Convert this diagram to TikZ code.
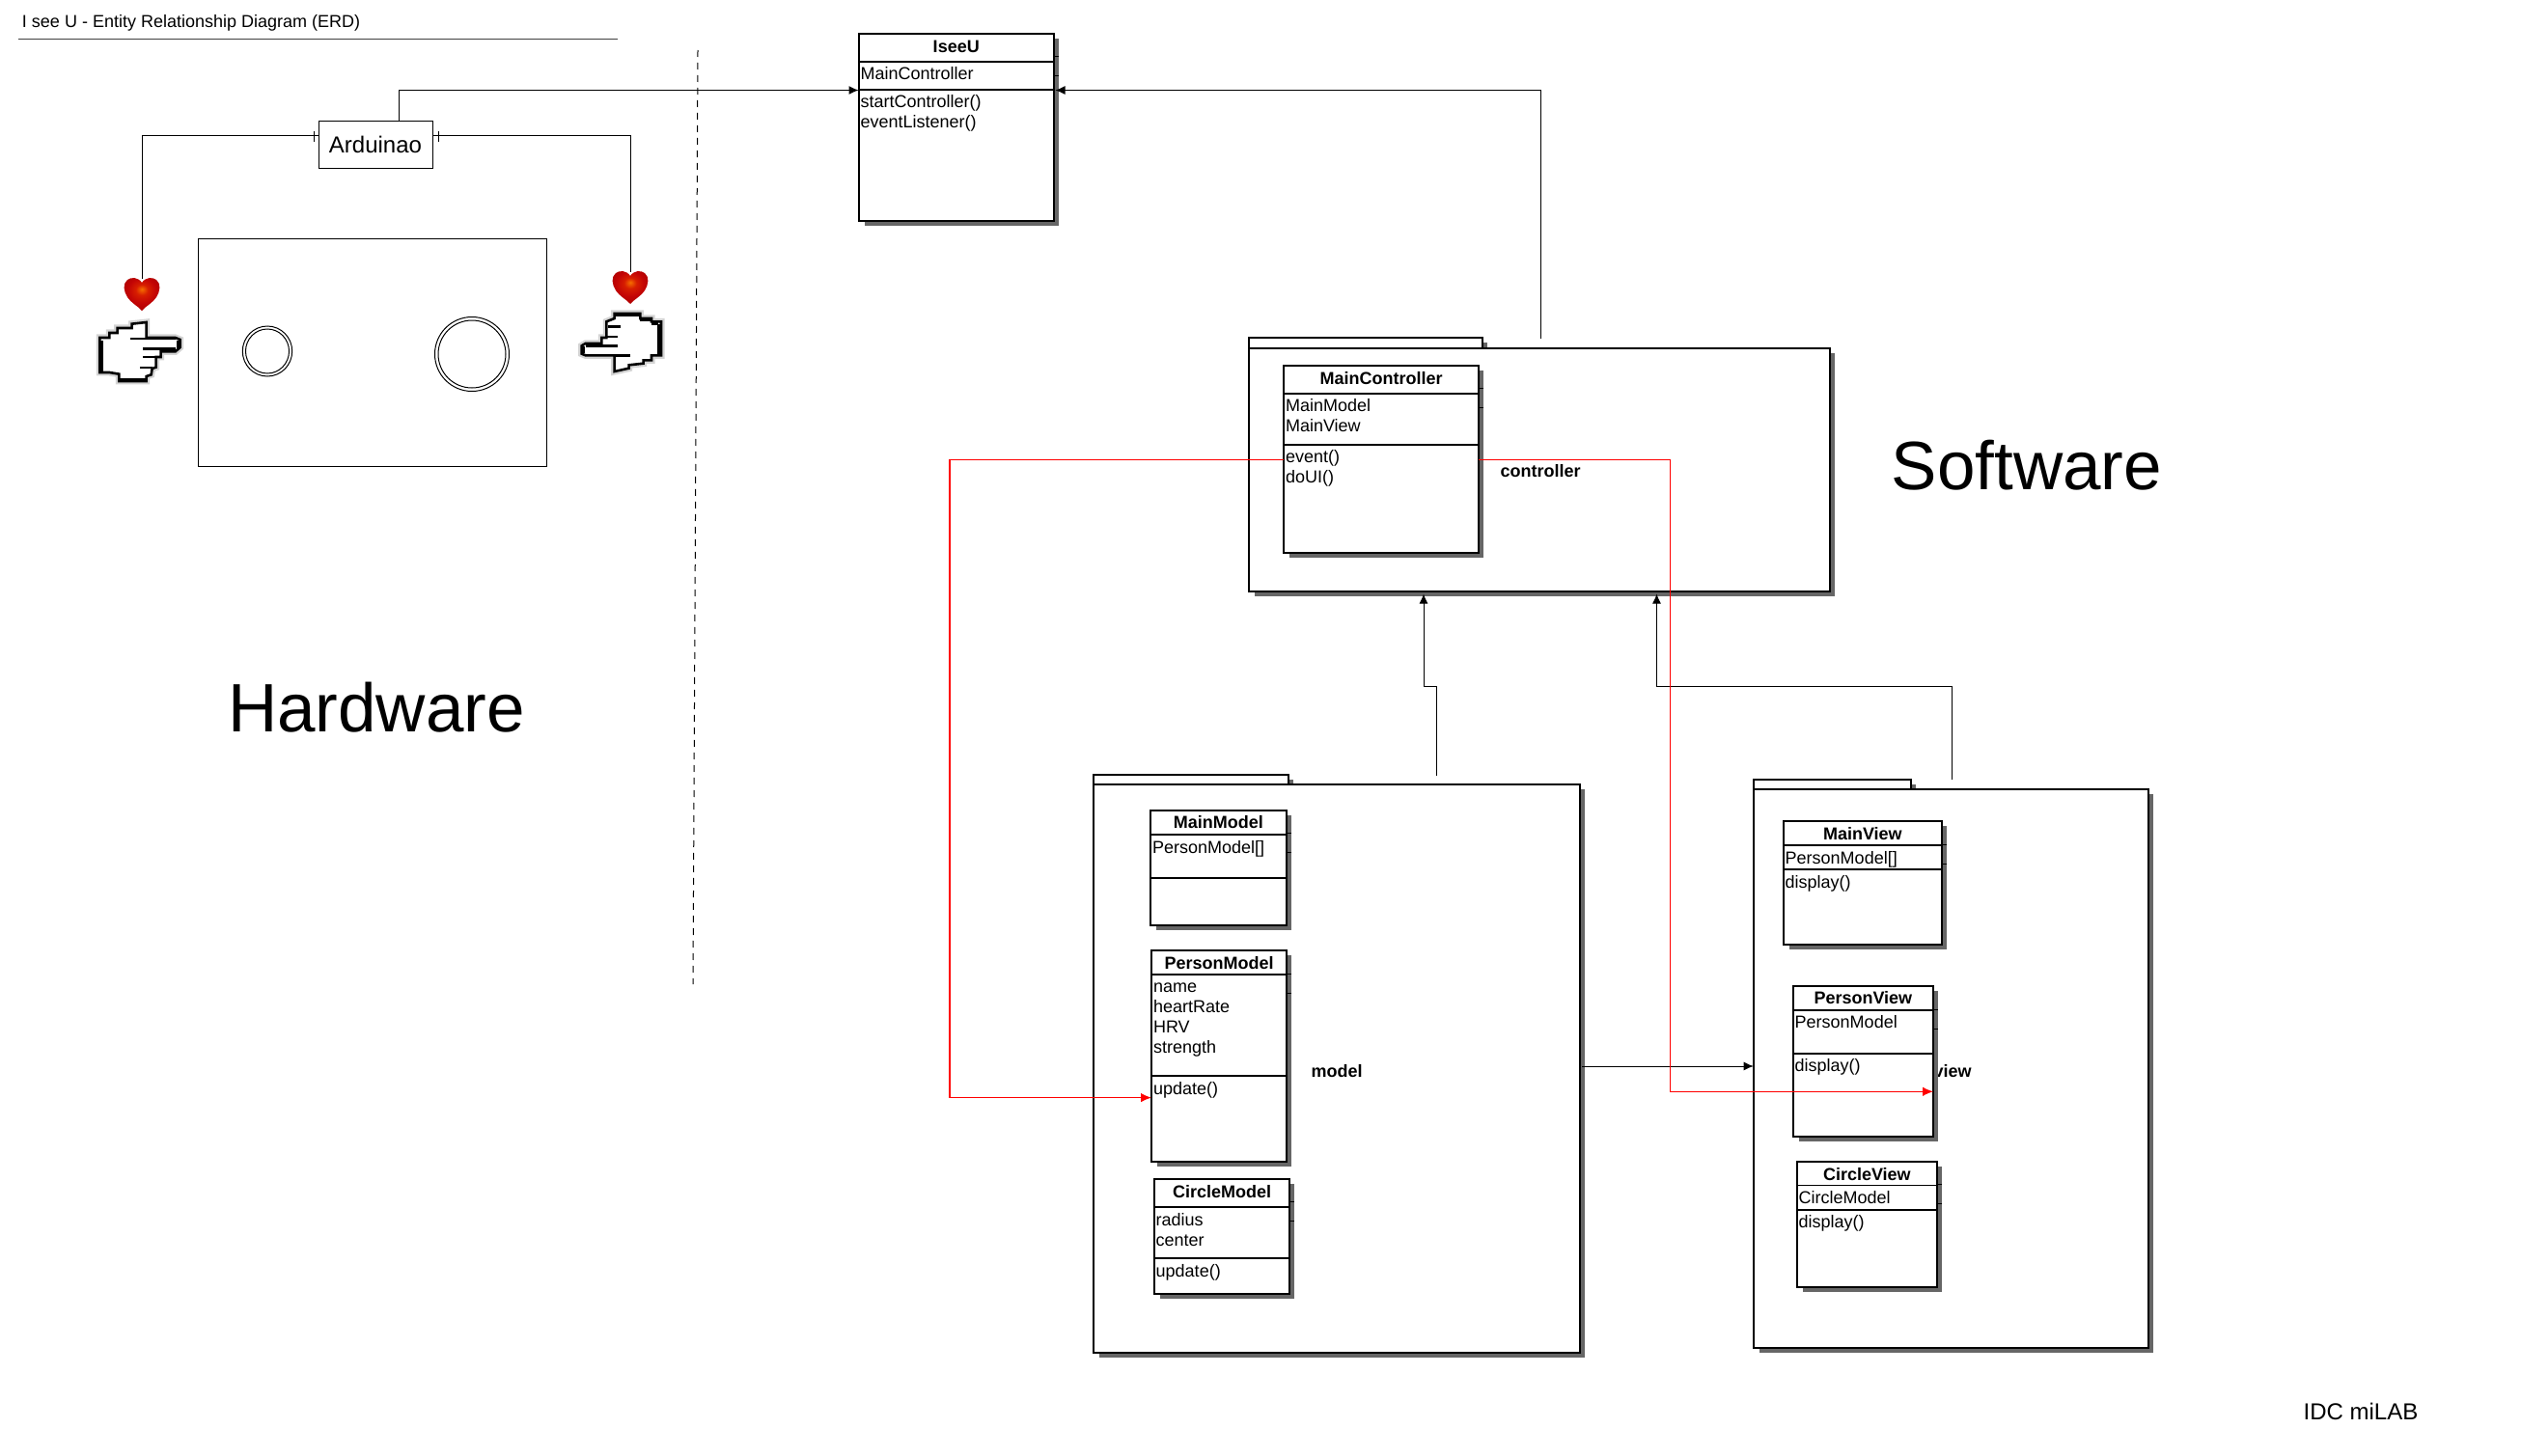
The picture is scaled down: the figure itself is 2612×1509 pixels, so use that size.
\documentclass[tikz,border=0pt]{standalone}
\usepackage{fontspec}
\setmainfont{Liberation Sans}
\usetikzlibrary{arrows.meta}
\definecolor{shadowgray}{RGB}{102,102,102}
\definecolor{heartcore}{RGB}{245,110,0}
\definecolor{heartmid}{RGB}{215,30,0}
\definecolor{heartred}{RGB}{195,5,5}
\definecolor{heartedge}{RGB}{170,0,0}
\pgfdeclareradialshading{heartshade}{\pgfpoint{0bp}{7bp}}{
  color(0bp)=(heartcore);
  color(8bp)=(heartmid);
  color(18bp)=(heartred);
  color(30bp)=(heartedge);
  color(50bp)=(heartedge)}
\tikzset{
  x=1pt,y=-1pt,
  boxline/.style={draw=black,line width=2pt,fill=white,inner sep=0pt,outer sep=0pt},
  divider/.style={line width=1.7pt},
  shadowfill/.style={fill=shadowgray},
  smalltext/.style={inner sep=0pt,outer sep=0pt,font=\fontsize{18}{21}\selectfont},
  classtitle/.style={smalltext,anchor=base,font=\fontsize{18}{21}\selectfont\bfseries},
  memberline/.style={smalltext,anchor=base west},
  pkglabel/.style={smalltext,font=\fontsize{18}{21}\selectfont\bfseries},
  conn/.style={draw=black,line width=1pt},
  connarrow/.style={conn,-{Latex[length=10pt,width=9pt]}},
  redconn/.style={draw=red,line width=1.2pt,-{Latex[length=11pt,width=9.5pt]}},
  handstroke/.style={draw=black,line width=2.6pt,fill=white,miter limit=3},
  handblur/.style={draw=black!30,line width=7pt,opacity=.55},
  handdetail/.style={draw=black,line width=2.6pt}
}
\def\titleshift{0}
% \classbox{title}[x1,y1,x2,y2,hdr,attr]{attrs}{ops}
\def\classbox#1[#2,#3,#4,#5,#6,#7]#8#9{%
  \fill[shadowfill] ({#2+6},{#3+5}) rectangle ({#4+5},{#5+5});
  \node[boxline,minimum width={(#4-#2)*1pt},minimum height={(#5-#3)*1pt}] (#1) at ({(#2+#4)/2},{(#3+#5)/2}) {};
  \draw[line width=.9pt] (#4,{#3+24}) -- ({#4+5},{#3+24});
  \draw[line width=.9pt] (#4,{#3+44}) -- ({#4+5},{#3+44});
  \draw[divider] (#2,#6) -- (#4,#6);
  \draw[divider] (#2,#7) -- (#4,#7);
  \node[classtitle] (#1-title) at ({(#2+#4)/2},{(#3+#6)/2+5.8+\titleshift}) {#1};
  \foreach \tx [count=\i] in {#8}
    \node[memberline] (#1-a\i) at ({#2+2},{#6+19+(\i-1)*21}) {\tx};
  \foreach \tx [count=\i] in {#9}
    \node[memberline] (#1-o\i) at ({#2+2},{#7+19+(\i-1)*21}) {\tx};
}
% \packagebox{name}{x1}{tabtop}{tabright}{bodytop}{x2}{y2}
\newcommand\packagebox[7]{%
  \fill[shadowfill] ({#2+6},{#5+5}) rectangle ({#6+5},{#7+5});
  \fill[shadowfill] ({#2+6},{#3+5}) rectangle ({#4+5},{#5+3});
  \node[boxline,minimum width={(#4-#2)*1pt},minimum height={(#5-#3)*1pt}] (#1-tab) at ({(#2+#4)/2},{(#3+#5)/2}) {};
  \node[boxline,minimum width={(#6-#2)*1pt},minimum height={(#7-#5)*1pt}] (#1) at ({(#2+#6)/2},{(#5+#7)/2}) {};
}
\newcommand\heartat[2]{%
  \begin{scope}[shift={(#1,#2)}]
    \shade[shading=heartshade] (0,5) .. controls (-4,-1) and (-11,-1) .. (-15,2)
      .. controls (-20,6) and (-19,14) .. (-15,20)
      .. controls (-10,27) and (-3,30) .. (0,34)
      .. controls (3,30) and (10,27) .. (15,20)
      .. controls (19,14) and (20,6) .. (15,2)
      .. controls (11,-1) and (4,-1) .. (0,5) -- cycle;
  \end{scope}}
\def\lefthandpath{(40,348) -- (40,240) -- (70,240) -- (70,225) -- (95,225) -- (95,210) -- (140,210) -- (140,197) -- (185,192) -- (185,240) -- (275,240) -- (290,246) -- (290,270) -- (275,283) -- (230,283) -- (230,300) -- (215,300) -- (215,332) -- (203,336) -- (200,355) -- (185,360) -- (185,375) -- (100,375) -- (100,353) -- (70,348) -- cycle}
\def\righthandpath{(110,165) -- (190,165) -- (190,180) -- (225,180) -- (225,190) -- (255,190) -- (255,295) -- (225,295) -- (225,310) -- (200,310) -- (200,320) -- (155,325) -- (155,335) -- (110,345) -- (110,295) -- (20,295) -- (8,290) -- (8,265) -- (20,258) -- (70,258) -- (70,240) -- (85,240) -- (85,190) -- (110,180) -- cycle}
\begin{document}
\begin{tikzpicture}
\useasboundingbox (0,0) rectangle (2612,1509);
\fill[white] (0,0) rectangle (2612,1509);

% title
\node[smalltext,anchor=base west] (title) at (23,29) {I see U - Entity Relationship Diagram (ERD)};
\coordinate (ruleL) at (19,40.5);
\coordinate (ruleR) at (640,40.5);
\draw[line width=1pt,draw=black!75] (ruleL) -- (ruleR);

% dashed divider
\coordinate (dashT) at (723,52);
\coordinate (dashB) at (718,1020);
\draw[line width=1pt,dash pattern=on 7pt off 6pt] (dashT) -- (dashB);

% hardware
\node[draw=black,line width=1pt,fill=white,inner sep=0pt,outer sep=0pt,minimum width=118pt,minimum height=48.5pt,font=\fontsize{24}{28}\selectfont] (Arduinao) at (389,150) {Arduinao};
\draw[line width=1pt,fill=white] (205.6,247.5) rectangle (566,483);
\draw[line width=1pt] (277,364) ellipse [x radius=25.7,y radius=26];
\draw[line width=1pt] (277,364) ellipse [x radius=22.5,y radius=23];
\draw[line width=1pt] (489,367) ellipse [x radius=38.5,y radius=38.5];
\draw[line width=1pt] (489,367) ellipse [x radius=35,y radius=35];

\coordinate (heartLtop) at (147.5,289);
\coordinate (heartRtop) at (653.6,282);
\coordinate (armL) at (330,141);
\coordinate (armR) at (448,141);
\draw[conn] (armL) -| (heartLtop);
\draw[conn] (armR) -| (heartRtop);
\draw[conn] (325.5,136) -- (325.5,147);
\draw[conn] (454,136) -- (454,147);
\heartat{147}{288}
\heartat{653}{281}

\begin{scope}[shift={(90,270)},x=.3333pt,y=-.3333pt]
  \draw[handblur] \lefthandpath;
  \draw[handstroke] \lefthandpath;
  \draw[handdetail] (135,243) -- (275,243);
  \draw[handdetail] (175,275) -- (275,275);
  \draw[handdetail] (175,300) -- (218,300);
  \draw[handdetail] (165,333) -- (205,333);
  \draw[handdetail] (47,250) -- (47,345);
  \draw[line width=3.5pt] (283,250) -- (283,272);
  \draw[line width=3.5pt] (100,370) -- (185,370);
\end{scope}
\begin{scope}[shift={(600,270)},x=.3333pt,y=-.3333pt]
  \draw[handblur] \righthandpath;
  \draw[handstroke] \righthandpath;
  \draw[handdetail] (90,205) -- (130,205);
  \draw[handdetail] (80,237) -- (120,237);
  \draw[handdetail] (20,265) -- (120,265);
  \draw[handdetail] (110,295) -- (160,295);
  \draw[handdetail] (190,185) -- (225,185);
  \draw[handdetail] (225,197) -- (247,197);
  \draw[handdetail] (248,197) -- (248,290);
  \draw[line width=3.5pt] (110,170) -- (190,170);
  \draw[line width=3.5pt] (13,268) -- (13,288);
\end{scope}

\node[font=\fontsize{71}{80}\selectfont,inner sep=0pt,anchor=base] (hwlabel) at (390,758) {Hardware};
\node[font=\fontsize{71}{80}\selectfont,inner sep=0pt,anchor=base] (swlabel) at (2100,507) {Software};
\node[font=\fontsize{24}{28}\selectfont,inner sep=0pt,anchor=base] (credit) at (2446,1471) {IDC miLAB};

% IseeU
\classbox{IseeU}[889.5,34.7,1092,229,63.7,92.7]{MainController}{startController(),eventListener()}

% controller package
\packagebox{controller}{1293.5}{350}{1535.5}{361}{1896}{612.6}
\node[pkglabel,anchor=base west] (controller-label) at (1554.5,494) {controller};
\def\titleshift{-1}
\classbox{MainController}[1330,378.8,1532,572.6,407.8,460.8]{MainModel,MainView}{event(),doUI()}

% model package
\packagebox{model}{1133}{803}{1335}{812.7}{1637}{1402}
\node[pkglabel,anchor=base west] (model-label) at (1358.6,1116) {model};
\def\titleshift{0}
\classbox{MainModel}[1192,839.7,1332.5,959,865,910]{PersonModel[]}{}
\def\titleshift{1.2}
\classbox{PersonModel}[1193,985,1333,1204,1009.7,1115]{name,heartRate,HRV,strength}{update()}
\def\titleshift{-1}
\classbox{CircleModel}[1195.7,1221.8,1336.4,1340.5,1251,1304]{radius,center}{update()}

% view package
\packagebox{view}{1816.7}{807.7}{1980}{817.8}{2226}{1397}
\node[pkglabel,anchor=base east] (view-label) at (2042.7,1116) {view};
\def\titleshift{1.2}
\classbox{MainView}[1847.7,851,2012,979,876,901]{PersonModel[]}{display()}
\def\titleshift{0}
\classbox{PersonView}[1857.7,1022,2003,1177.6,1046.7,1091.8]{PersonModel}{display()}
\def\titleshift{1.2}
\classbox{CircleView}[1861.7,1203.7,2007,1333.8,1228.6,1253.8]{CircleModel}{display()}

% connectors
\coordinate (arduinoOut) at (413,126);
\coordinate (isLeft) at (889.5,93.5);
\coordinate (isRight) at (1093.5,93.5);
\draw[connarrow] (arduinoOut) |- (isLeft);
\coordinate (ctrlTop) at (1596.6,351);
\draw[connarrow] (ctrlTop) |- (isRight);

\coordinate (modelTop) at (1488,804);
\coordinate (modelKnee) at (1488,711);
\coordinate (modelKnee2) at (1475,711);
\coordinate (ctrlIn1) at (1475,615.5);
\draw[connarrow] (modelTop) -- (modelKnee) -- (modelKnee2) -- (ctrlIn1);

\coordinate (viewTop) at (2022.5,808);
\coordinate (viewKnee) at (2022.5,711.5);
\coordinate (viewKnee2) at (1716.5,711.5);
\coordinate (ctrlIn2) at (1716.5,615.5);
\draw[connarrow] (viewTop) -- (viewKnee) -- (viewKnee2) -- (ctrlIn2);

\coordinate (modelOut) at (1639,1105);
\coordinate (viewIn) at (1816.7,1105);
\draw[connarrow] (modelOut) -- (viewIn);

\coordinate (evL) at (1330,476.3);
\coordinate (evLk) at (984,476.3);
\coordinate (evLk2) at (984,1137.6);
\coordinate (upd) at (1193,1137.6);
\draw[redconn] (evL) -- (evLk) -- (evLk2) -- (upd);

\coordinate (evR) at (1532,476.3);
\coordinate (evRk) at (1730.6,476.3);
\coordinate (evRk2) at (1730.6,1131.3);
\coordinate (disp) at (2003,1131.3);
\draw[redconn] (evR) -- (evRk) -- (evRk2) -- (disp);
\end{tikzpicture}
\end{document}
